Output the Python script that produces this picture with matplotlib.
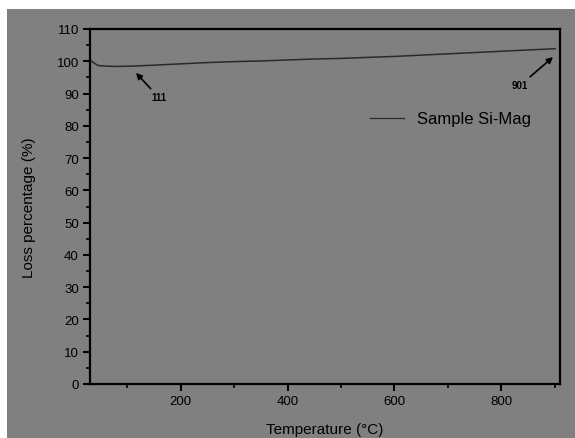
import matplotlib.pyplot as plt
import matplotlib.patches as patches
from matplotlib.ticker import MultipleLocator

plt.rcParams['font.family'] = ['Liberation Sans', 'DejaVu Sans']

# TGA curve
temperature = [32, 38, 45, 60, 80, 110, 150, 200, 250, 300, 350, 400, 450,
               500, 550, 600, 650, 700, 750, 800, 850, 901]
loss = [100.1, 99.4, 98.7, 98.5, 98.4, 98.5, 98.8, 99.2, 99.6, 99.9, 100.1,
        100.4, 100.7, 100.9, 101.2, 101.5, 101.9, 102.3, 102.7, 103.1, 103.5, 103.9]
series_name = 'Sample Si-Mag'

# arrow labels: (text, arrow tip, text position)
marks = [('111', (116, 96.4), (159, 88.8)),
         ('901', (897, 101.3), (835, 92.5))]

W, H = 575, 439
fig = plt.figure(figsize=(W / 100, H / 100), dpi=100, facecolor='white')
# gray backdrop, leaving a thin white strip at top and left
fig.patches.append(patches.Rectangle((7 / W, 0), 1, 1 - 10 / H, transform=fig.transFigure,
                                     facecolor='#808080', edgecolor='none', zorder=-1))

ax = fig.add_axes([90 / W, 1 - 385 / H, 470 / W, 355 / H])
ax.set_facecolor('#808080')
ax.plot(temperature, loss, color='#2a2a2a', lw=1.1, label=series_name)

ax.set_xlim(30, 910)
ax.set_ylim(0, 110)
ax.xaxis.set_major_locator(MultipleLocator(200))
ax.xaxis.set_minor_locator(MultipleLocator(100))
ax.yaxis.set_major_locator(MultipleLocator(10))
ax.yaxis.set_minor_locator(MultipleLocator(5))

for s in ax.spines.values():
    s.set_linewidth(1.6)
    s.set_color('black')
ax.tick_params(which='major', direction='out', length=5, width=1.5, labelsize=9.5, pad=3)
ax.tick_params(which='minor', direction='out', length=3, width=1.2)
ax.tick_params(top=False, right=False)

ax.set_xlabel('Temperature (°C)', fontsize=11, labelpad=11)
ax.set_ylabel('Loss percentage (%)', fontsize=11, labelpad=15)

for txt, tip, pos in marks:
    ax.annotate(txt, xy=tip, xytext=pos, fontsize=7, fontweight='bold', ha='center', va='center',
                arrowprops=dict(arrowstyle='-|>', color='black', lw=1.2, mutation_scale=9,
                                shrinkA=1, shrinkB=0))

leg = ax.legend(loc='upper right', bbox_to_anchor=(0.97, 0.81), frameon=False,
                fontsize=12, handlelength=2.0, handletextpad=0.8)
for h in leg.get_lines():
    h.set_linewidth(0.9)

fig.savefig('out.png', dpi=100, facecolor=fig.get_facecolor())
